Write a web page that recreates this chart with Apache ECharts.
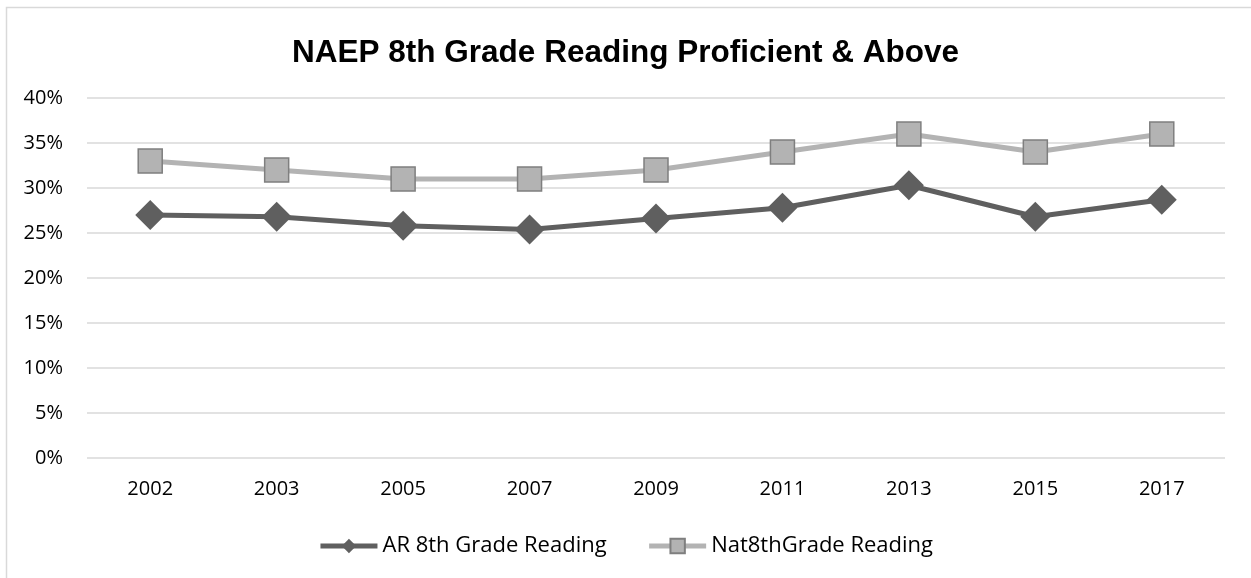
<!DOCTYPE html>
<html>
<head>
<meta charset="utf-8">
<script src="https://cdn.jsdelivr.net/npm/echarts@6/dist/echarts.min.js"></script>
<style>
  html, body { margin: 0; padding: 0; background: #fff; }
  #chart { width: 1251px; height: 578px; }
</style>
</head>
<body>
<div id="chart"></div>
<script>
// NAEP 8th grade reading, % proficient & above
const years = ['2002', '2003', '2005', '2007', '2009', '2011', '2013', '2015', '2017'];
const arReading = [27.0, 26.8, 25.8, 25.4, 26.6, 27.8, 30.3, 26.8, 28.7];
const natReading = [33, 32, 31, 31, 32, 34, 36, 34, 36];

const labelFont = '"Open Sans", "Noto Sans", sans-serif';

const chart = echarts.init(document.getElementById('chart'));

chart.setOption({
  animation: false,
  backgroundColor: '#fff',
  graphic: [{
    type: 'rect',
    shape: { x: 6.5, y: 7.5, width: 1300, height: 700 },
    style: { fill: 'none', stroke: '#d9d9d9', lineWidth: 1.5 },
    silent: true
  }],
  title: {
    text: 'NAEP 8th Grade Reading Proficient & Above',
    left: 'center',
    top: 32,
    textStyle: {
      fontFamily: '"Liberation Sans", Arial, sans-serif',
      fontWeight: 'bold',
      fontSize: 31.5,
      color: '#000'
    }
  },
  grid: { left: 87, right: 26, top: 98, bottom: 120 },
  legend: {
    top: 530,
    left: 'center',
    itemWidth: 57,
    itemHeight: 18,
    itemGap: 40,
    textStyle: { fontFamily: labelFont, fontSize: 22, color: '#000' },
    lineStyle: { width: 5 },
    data: ['AR 8th Grade Reading', 'Nat8thGrade Reading']
  },
  xAxis: {
    type: 'category',
    data: years,
    boundaryGap: true,
    axisLine: { show: false },
    axisTick: { show: false },
    axisLabel: { fontFamily: labelFont, fontSize: 20, color: '#000', margin: 21 }
  },
  yAxis: {
    type: 'value',
    min: 0,
    max: 40,
    interval: 5,
    axisLine: { show: false },
    axisTick: { show: false },
    splitLine: { lineStyle: { color: '#d9d9d9', width: 1.5 } },
    axisLabel: { formatter: '{value}%', fontFamily: labelFont, fontSize: 20, color: '#000', margin: 24 }
  },
  series: [
    {
      name: 'Nat8thGrade Reading',
      type: 'line',
      data: natReading,
      symbol: 'rect',
      symbolSize: 24,
      lineStyle: { color: '#b3b3b3', width: 5 },
      itemStyle: { color: '#b3b3b3', borderColor: '#7f7f7f', borderWidth: 1.5 },
      z: 2
    },
    {
      name: 'AR 8th Grade Reading',
      type: 'line',
      data: arReading,
      symbol: 'diamond',
      symbolSize: 30,
      lineStyle: { color: '#5f5f5f', width: 5 },
      itemStyle: { color: '#5f5f5f', borderWidth: 0 },
      z: 3
    }
  ]
});
</script>
</body>
</html>
